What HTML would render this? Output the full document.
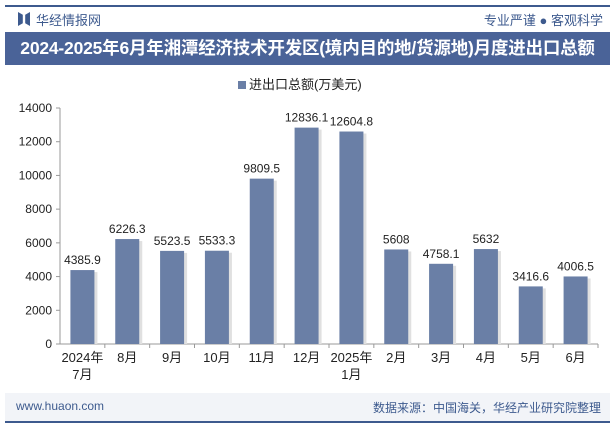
<!DOCTYPE html>
<html><head><meta charset="utf-8"><style>
body{margin:0;width:615px;height:427px;background:#fff;font-family:"Liberation Sans","Noto Sans CJK SC",sans-serif;overflow:hidden;position:relative}
.a{position:absolute}
</style></head><body>
<div class="a" style="left:5px;top:5px;width:605px;height:2px;background:#3d5a8e"></div>
<div class="a" style="left:18px;top:12px;width:12px;height:14px;background:#3d5a8e;clip-path:polygon(0 0,40% 20%,40% 80%,0 100%,0 0,100% 0,100% 100%,60% 80%,60% 20%,100% 0)"></div>
<div class="a" style="left:36px;top:10px;font-size:13px;color:#3d5a8e">华经情报网</div>
<div class="a" style="right:12px;top:10px;font-size:13px;color:#3d5a8e">专业严谨 ● 客观科学</div>
<div class="a" style="left:5px;top:32px;width:605px;height:33px;background:#4a6398;color:#fff;font-size:17.5px;font-weight:bold;line-height:33px;text-align:center;white-space:nowrap;letter-spacing:-0.2px">2024-2025年6月年湘潭经济技术开发区(境内目的地/货源地)月度进出口总额</div>
<div class="a" style="left:238px;top:74px;font-size:13px;color:#222"><span style="display:inline-block;width:8px;height:8px;background:#6a7fa6;margin-right:3px"></span>进出口总额(万美元)</div>
<svg class="a" style="left:0;top:0" width="615" height="427">
<g id="g"></g></svg>
<div class="a" style="left:5px;top:393px;width:605px;height:28px;background:#f2f4f8"></div>
<div class="a" style="left:16px;top:399px;font-size:12px;color:#3d5a8e">www.huaon.com</div>
<div class="a" style="right:14px;top:399px;font-size:12px;color:#3d5a8e">数据来源：中国海关，华经产业研究院整理</div>
<div class="a" style="left:5px;top:421px;width:605px;height:2px;background:#3d5a8e"></div>
<script>
const categories=["2024年\n7月","8月","9月","10月","11月","12月","2025年\n1月","2月","3月","4月","5月","6月"];
const values=[4385.9,6226.3,5523.5,5533.3,9809.5,12836.1,12604.8,5608,4758.1,5632,3416.6,4006.5];
const labels=["4385.9","6226.3","5523.5","5533.3","9809.5","12836.1","12604.8","5608","4758.1","5632","3416.6","4006.5"];
const ticks=[0,2000,4000,6000,8000,10000,12000,14000];
const NS="http://www.w3.org/2000/svg",g=document.getElementById('g');
const x0=60,x1=598,y0=344,y1=108,max=14000;
const bw=(x1-x0)/categories.length;
const y=v=>y0-(v/max)*(y0-y1);
function mk(t,a,txt){const e=document.createElementNS(NS,t);for(const k in a)e.setAttribute(k,a[k]);if(txt!=null)e.textContent=txt;g.appendChild(e);return e;}
let e=mk('line',{x1:x0,y1:y1,x2:x0,y2:y0,stroke:'#999'});

e=mk('line',{x1:x0,y1:y0,x2:x1,y2:y0,stroke:'#999'});

ticks.forEach(t=>{
 mk('line',{x1:x0-4,y1:y(t),x2:x0,y2:y(t),stroke:'#999'});
 e=mk('text',{x:x0-8,y:y(t)+4,'text-anchor':'end','font-size':12,fill:'#222'},t);
 
});
categories.forEach((c,i)=>{
 const cx=x0+bw*(i+0.5);
 mk('line',{x1:x0+bw*(i+1),y1:y0,x2:x0+bw*(i+1),y2:y0+4,stroke:'#999'});
 mk('rect',{x:cx-12+2,y:y(values[i])+2,width:25,height:y0-y(values[i])-2,fill:'#e0e0e0'});
 e=mk('rect',{x:cx-12,y:y(values[i]),width:24,height:y0-y(values[i]),fill:'#6a7fa6'});
 
 e=mk('text',{x:cx,y:y(values[i])-6,'text-anchor':'middle','font-size':12,fill:'#222'},labels[i]);
 
 c.split('\n').forEach((s,j)=>{
  e=mk('text',{x:cx,y:y0+18+j*17,'text-anchor':'middle','font-size':13,fill:'#222'},s);
  
 });
});
</script>
</body></html>
